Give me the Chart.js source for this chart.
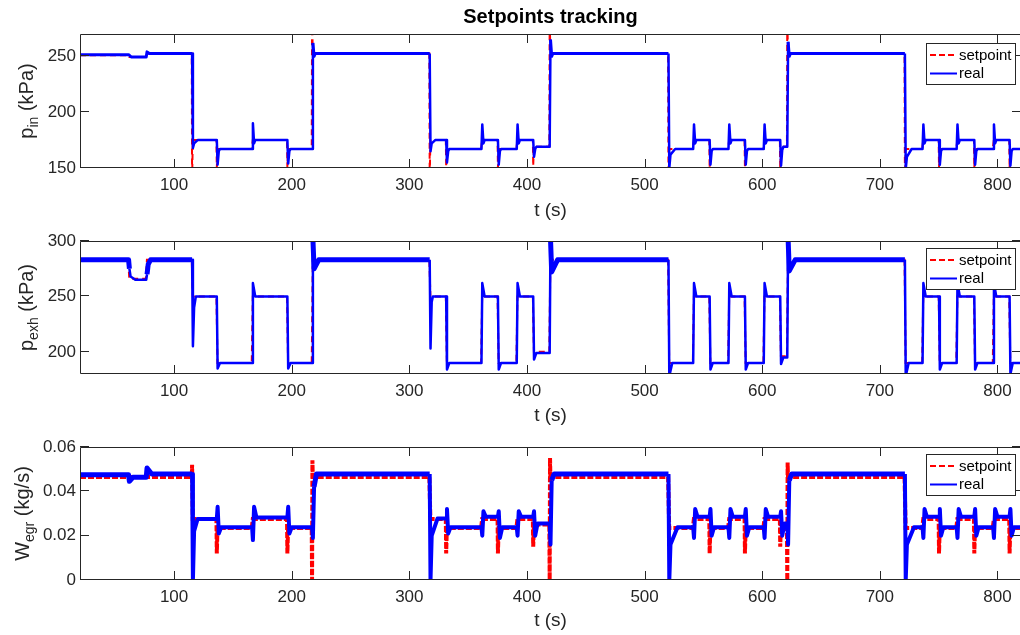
<!DOCTYPE html>
<html>
<head>
<meta charset="utf-8">
<script src="https://cdn.jsdelivr.net/npm/chart.js@4.4.1/dist/chart.umd.min.js"></script>
<style>
  html, body { margin: 0; padding: 0; background: #fff; overflow: hidden; }
  #wrap { position: relative; width: 1020px; height: 635px; overflow: hidden; }
  canvas { position: absolute; left: 0; }
</style>
</head>
<body>
<div id="wrap">
  <canvas id="pin" width="1021" height="225" style="top:0"></canvas>
  <canvas id="pexh" width="1021" height="205" style="top:225px"></canvas>
  <canvas id="wegr" width="1021" height="205" style="top:430px"></canvas>
</div>
<script>
// time axis (s)
const tStart = 20;
const tEnd = 820;
const xTicks = [100, 200, 300, 400, 500, 600, 700, 800];
// instants where the setpoints switch
const switchTimes = [61, 76, 115, 136, 166, 196, 217, 317, 331, 361, 375, 391, 405, 419, 520,
                     541, 555, 571, 585, 601, 615, 621, 721, 736, 750, 765, 780, 796, 810];

// --- p_in (kPa) ---
const pinTicks = [150, 200, 250];
const pinSet  = [251, 249.5, 252.5, 175, 167, 175, 167, 252.5, 175, 167, 175, 167, 175, 169, 252.5,
                 167, 175, 167, 175, 167, 175, 169, 252.5, 167, 175, 167, 175, 167, 175, 167];
const pinReal = [251.5, 249.5, 252.5, 175, 167, 175, 167, 252.5, 175, 167, 175, 167, 175, 169, 252.5,
                 167, 175, 167, 175, 167, 175, 169, 252.5, 167, 175, 167, 175, 167, 175, 167];
const pinSetSpike = [null, null, 140, 150, null, 151, 285, 140, 151, null, 150, null, 152, 285, 140,
                     null, 150, null, 150, null, 150, 285, 140, null, 150, null, 150, null, 150];
const pinPeakA = [null, 254, 168, 153, 190, 154, 262, 165, 155, 189, 153, 189, 160, 265, 150,
                  189, 153, 189, 153, 189, 152, 263, 149, 189, 153, 189, 153, 189, 152];
const pinPeakB = [null, null, 172, 165, 172, 165, 250, 172, 165, 172, 165, 172, 167, 250, 162,
                  172, 165, 172, 165, 172, 166, 250, 160, 172, 165, 172, 165, 172, 165];
const pinSettle = [0.5, 1, 3, 1, 1, 1, 1, 3, 1, 1, 1, 1, 1, 1, 4,
                   1, 1, 1, 1, 1, 1, 1, 4, 1, 1, 1, 1, 1, 1];

// --- p_exh (kPa) ---
const pexhTicks = [200, 250, 300];
const pexhSet  = [283, 266, 283, 250, 190, 250, 190, 283, 250, 190, 250, 190, 250, 200, 283,
                  190, 250, 190, 250, 190, 250, 196, 283, 190, 250, 190, 250, 190, 250, 190];
const pexhReal = [283, 265, 283, 250, 190, 250, 190, 283, 250, 190, 250, 190, 250, 199, 283,
                  190, 250, 190, 250, 190, 250, 195, 283, 190, 250, 190, 250, 190, 250, 190];
const pexhSetSpike = [null, null, null, null, null, null, null, null, null, null, null, null, null, null, null,
                      null, null, null, null, null, null, null, null, null, null, null, null, null, null];
const pexhPeakA = [275, 270, 205, 185, 262, 185, 302, 203, 184, 262, 184, 262, 193, 302, 178,
                   262, 184, 262, 184, 262, 189, 302, 178, 262, 184, 262, 184, 262, 180];
const pexhPeakB = [268, 279, 240, null, null, null, 275, 245, null, null, null, null, null, 272, null,
                   null, null, null, null, null, null, 273, null, null, null, null, null, null, null];
const pexhSettle = [4, 2, 1.5, 1, 1, 1, 4, 1, 1, 1, 1, 1, 1, 5, 1.5,
                    1, 1, 1, 1, 1, 1, 5, 1.5, 1, 1, 1, 1, 1, 1];

// --- W_egr (kg/s) ---
const wTicks = [0, 0.02, 0.04, 0.06];
const wSet  = [0.0465, 0.0465, 0.0465, 0.0275, 0.0235, 0.0275, 0.0235, 0.0465, 0.0275, 0.0235, 0.0275, 0.0235, 0.0275, 0.025, 0.0465,
               0.0235, 0.0275, 0.0235, 0.0275, 0.0235, 0.0275, 0.025, 0.0465, 0.0235, 0.0275, 0.0235, 0.0275, 0.0235, 0.0275, 0.0235];
const wReal = [0.0475, 0.0463, 0.0478, 0.0275, 0.0238, 0.0282, 0.0238, 0.0478, 0.0278, 0.0238, 0.0285, 0.0238, 0.0285, 0.0255, 0.0478,
               0.0238, 0.0285, 0.0238, 0.0285, 0.0238, 0.0285, 0.0255, 0.0478, 0.0238, 0.0285, 0.0238, 0.0285, 0.0238, 0.0285, 0.0238];
const wSetSpikeA = [null, null, 0.052, 0.012, null, 0.012, 0, null, 0.012, null, 0.012, null, 0.015, 0, null,
                    null, 0.012, null, 0.012, null, 0.015, 0, null, null, 0.012, null, 0.012, null, 0.012];
const wSetSpikeB = [null, null, null, null, null, null, 0.054, null, null, null, null, null, null, 0.055, null,
                    null, null, null, null, null, null, 0.053, null, null, null, null, null, null, null];
const wPeakA = [0.0445, 0.0505, 0, 0.033, 0.018, 0.033, 0.019, 0, 0.032, 0.020, 0.031, 0.020, 0.031, 0.016, 0,
                0.019, 0.032, 0.019, 0.032, 0.019, 0.031, 0.016, 0, 0.019, 0.032, 0.019, 0.032, 0.019, 0.032];
const wPeakB = [null, null, 0.022, 0.021, 0.033, 0.021, 0.042, 0.020, 0.021, 0.031, 0.019, 0.031, 0.020, 0.045, 0.016,
                0.032, 0.020, 0.032, 0.020, 0.032, 0.020, 0.045, 0.016, 0.032, 0.020, 0.032, 0.020, 0.032, 0.020];
const wSettle = [2, 3, 3, 2, 2, 2, 2, 5, 2, 2, 2, 2, 2, 2, 6,
                 2, 2, 2, 2, 2, 2, 2, 6, 2, 2, 2, 2, 2, 2];

const FONT = "'Liberation Sans', Arial, Helvetica, sans-serif";
const INK = "#262626";
const TICK_LEN = 9;

Chart.defaults.font.family = FONT;
Chart.defaults.color = INK;

// setpoint: steps, with the filter spike drawn at each switch
function setpointPoints(levels, spikeA, spikeB) {
  const pts = [{ x: tStart, y: levels[0] }];
  switchTimes.forEach((t, k) => {
    pts.push({ x: t, y: levels[k] });
    if (spikeA[k] !== null) pts.push({ x: t + 0.3, y: spikeA[k] });
    if (spikeB && spikeB[k] !== null) pts.push({ x: t + 0.6, y: spikeB[k] });
    pts.push({ x: t + 0.9, y: levels[k + 1] });
  });
  pts.push({ x: tEnd, y: levels[levels.length - 1] });
  return pts;
}

// measured signal: lags a little, overshoots, then settles
function realPoints(levels, peakA, peakB, settle) {
  const pts = [{ x: tStart, y: levels[0] }];
  switchTimes.forEach((t, k) => {
    pts.push({ x: t + 0.3, y: levels[k] });
    if (peakA[k] !== null) pts.push({ x: t + 1, y: peakA[k] });
    if (peakB[k] !== null) pts.push({ x: t + 2, y: peakB[k] });
    pts.push({ x: t + 2 + settle[k], y: levels[k + 1] });
  });
  pts.push({ x: tEnd, y: levels[levels.length - 1] });
  return pts;
}

// MATLAB-like box with inward ticks on all four sides
const axisBox = {
  id: "axisBox",
  afterDatasetsDraw(chart) {
    const { ctx, chartArea: a, scales } = chart;
    ctx.save();
    ctx.strokeStyle = INK;
    ctx.lineWidth = 1;
    ctx.beginPath();
    ctx.rect(a.left + 0.5, a.top + 0.5, a.right - a.left, a.bottom - a.top - 1);
    xTicks.forEach((v) => {
      const px = Math.round(scales.x.getPixelForValue(v)) + 0.5;
      ctx.moveTo(px, a.bottom); ctx.lineTo(px, a.bottom - TICK_LEN);
      ctx.moveTo(px, a.top); ctx.lineTo(px, a.top + TICK_LEN);
    });
    scales.y.ticks.forEach((t) => {
      const py = Math.round(scales.y.getPixelForValue(t.value)) - 0.5;
      ctx.moveTo(a.left, py); ctx.lineTo(a.left + TICK_LEN, py);
      ctx.moveTo(a.right, py); ctx.lineTo(a.right - TICK_LEN, py);
    });
    ctx.stroke();
    ctx.restore();
  },
};

// y label with a subscript, e.g. p_in (kPa)
const yLabel = {
  id: "yLabel",
  afterDraw(chart, args, o) {
    const { ctx, chartArea: a } = chart;
    const big = "20px " + FONT, small = "14px " + FONT;
    ctx.save();
    ctx.font = big;
    const w1 = ctx.measureText(o.main).width;
    const w3 = ctx.measureText(o.unit).width;
    ctx.font = small;
    const w2 = ctx.measureText(o.sub).width;
    ctx.translate(o.x, (a.top + a.bottom) / 2);
    ctx.rotate(-Math.PI / 2);
    ctx.fillStyle = INK;
    ctx.textBaseline = "alphabetic";
    let cx = -(w1 + w2 + w3) / 2;
    ctx.font = big;   ctx.fillText(o.main, cx, 0); cx += w1;
    ctx.font = small; ctx.fillText(o.sub, cx, 5);  cx += w2;
    ctx.font = big;   ctx.fillText(o.unit, cx, 0);
    ctx.restore();
  },
};

// boxed legend in the upper right corner
const boxLegend = {
  id: "boxLegend",
  afterDraw(chart, args, o) {
    const { ctx, chartArea: a } = chart;
    const left = 926, top = a.top + o.dy, w = 89, h = 41;
    ctx.save();
    ctx.fillStyle = "#fff";
    ctx.fillRect(left, top, w, h);
    ctx.strokeStyle = INK;
    ctx.lineWidth = 1;
    ctx.strokeRect(left + 0.5, top + 0.5, w, h);
    chart.data.datasets.forEach((ds, i) => {
      const yy = top + 12 + i * 18.5;
      ctx.beginPath();
      ctx.setLineDash(i === 0 ? [6, 3] : []);
      ctx.strokeStyle = ds.borderColor;
      ctx.lineWidth = 2;
      ctx.moveTo(left + 4, yy);
      ctx.lineTo(left + 31, yy);
      ctx.stroke();
      ctx.setLineDash([]);
      ctx.fillStyle = "#000";
      ctx.font = "15px " + FONT;
      ctx.textBaseline = "middle";
      ctx.fillText(ds.label, left + 33, yy + 0.5);
    });
    ctx.restore();
  },
};

const plotTitle = {
  id: "plotTitle",
  afterDraw(chart, args, o) {
    if (!o.text) return;
    const { ctx, chartArea: a } = chart;
    ctx.save();
    ctx.font = "bold 20px " + FONT;
    ctx.fillStyle = "#000";
    ctx.textAlign = "center";
    ctx.textBaseline = "middle";
    ctx.fillText(o.text, (a.left + a.right) / 2, 17);
    ctx.restore();
  },
};

function makePanel(id, o) {
  const hi = o.band;
  return new Chart(document.getElementById(id), {
    type: "line",
    data: {
      datasets: [
        {
          label: "setpoint",
          data: o.set,
          borderColor: "#ff0000",
          borderWidth: o.setWidth,
          borderDash: o.dash,
          borderCapStyle: "butt",
          order: 2,
        },
        {
          label: "real",
          data: o.real,
          borderColor: "#0000ff",
          borderWidth: o.realWidth,
          borderJoinStyle: "round",
          order: 1,
          segment: {
            borderWidth: (c) => (c.p0.parsed.y >= hi && c.p1.parsed.y >= hi ? o.bandWidth : o.realWidth),
          },
        },
      ],
    },
    options: {
      responsive: false,
      animation: false,
      devicePixelRatio: 1,
      layout: { padding: { top: o.top, left: 0, right: 0, bottom: 0 } },
      elements: { point: { radius: 0 }, line: { tension: 0 } },
      plugins: {
        legend: { display: false },
        tooltip: { enabled: false },
        yLabel: o.ylab,
        boxLegend: { dy: o.legendDy },
        plotTitle: { text: o.title },
      },
      scales: {
        x: {
          type: "linear",
          min: tStart,
          max: tEnd,
          grid: { display: false, drawTicks: false },
          border: { display: false },
          afterBuildTicks: (s) => { s.ticks = xTicks.map((v) => ({ value: v })); },
          afterFit: (s) => { s.height = o.xh; },
          ticks: { padding: 7, font: { size: 17 }, color: INK },
          title: { display: true, text: "t (s)", font: { size: 19 }, color: INK, padding: { top: 0, bottom: 3 } },
        },
        y: {
          type: "linear",
          min: o.yMin,
          max: o.yMax,
          grid: { display: false, drawTicks: false },
          border: { display: false },
          afterBuildTicks: (s) => { s.ticks = o.yTicks.map((v) => ({ value: v })); },
          afterFit: (s) => { s.width = 80; },
          ticks: { padding: 4, font: { size: 17 }, color: INK, callback: (v) => String(v) },
        },
      },
    },
    plugins: [axisBox, yLabel, boxLegend, plotTitle],
  });
}

makePanel("pin", {
  set: setpointPoints(pinSet, pinSetSpike),
  real: realPoints(pinReal, pinPeakA, pinPeakB, pinSettle),
  setWidth: 2, realWidth: 2.5, bandWidth: 3, band: 240, dash: [6, 4],
  yMin: 150, yMax: 270, yTicks: pinTicks,
  top: 34, xh: 57, legendDy: 9, title: "Setpoints tracking",
  ylab: { main: "p", sub: "in", unit: " (kPa)", x: 33 },
});

makePanel("pexh", {
  set: setpointPoints(pexhSet, pexhSetSpike),
  real: realPoints(pexhReal, pexhPeakA, pexhPeakB, pexhSettle),
  setWidth: 2, realWidth: 2.5, bandWidth: 5, band: 270, dash: [6, 4],
  yMin: 180, yMax: 300, yTicks: pexhTicks,
  top: 16, xh: 56, legendDy: 7,
  ylab: { main: "p", sub: "exh", unit: " (kPa)", x: 33 },
});

makePanel("wegr", {
  set: setpointPoints(wSet, wSetSpikeA, wSetSpikeB),
  real: realPoints(wReal, wPeakA, wPeakB, wSettle),
  setWidth: 4, realWidth: 4, bandWidth: 5, band: 0.04, dash: [6, 2],
  yMin: 0, yMax: 0.06, yTicks: wTicks,
  top: 17, xh: 55, legendDy: 7,
  ylab: { main: "W", sub: "egr", unit: " (kg/s)", x: 29 },
});
</script>
</body>
</html>
